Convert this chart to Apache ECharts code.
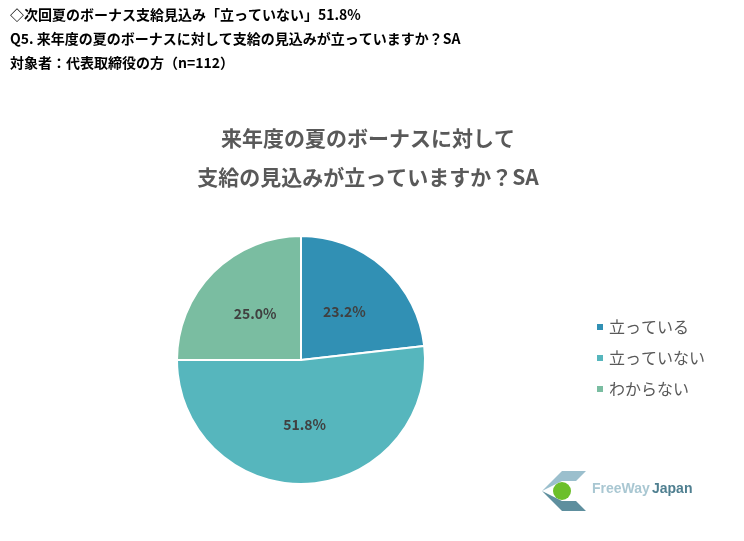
<!DOCTYPE html><html><head><meta charset="utf-8"><script src="https://cdn.jsdelivr.net/npm/echarts@6/dist/echarts.min.js"></script>
<style>html,body{margin:0;background:#fff}#c{width:744px;height:541px}</style></head><body><div id="c"></div><script>
const categories=['立っている','立っていない','わからない'];
const values=[23.2,51.8,25.0];
const colors=['#3190b4','#56b6bd','#7abda1'];
const headers=['◇次回夏のボーナス支給見込み「立っていない」51.8%','Q5. 来年度の夏のボーナスに対して支給の見込みが立っていますか？SA','対象者：代表取締役の方（n=112）'];
const F='"Noto Sans CJK JP",sans-serif';
const ch=echarts.init(document.getElementById('c'));
ch.setOption({
 animation:false,
 color:colors,
 title:{text:'来年度の夏のボーナスに対して\n支給の見込みが立っていますか？SA',left:363,textAlign:'center',top:114,
  textStyle:{fontFamily:F,fontSize:21,fontWeight:'bold',color:'#595959',lineHeight:39}},
 legend:{orient:'vertical',left:590,top:314,itemWidth:8,itemHeight:8,itemGap:15,icon:'rect',
  textStyle:{fontFamily:F,fontSize:16,color:'#595959'},data:categories},
 graphic:[
  ...headers.map((t,i)=>({type:'text',left:10,top:8+i*24,style:{text:t,font:'bold 14px '+F,fill:'#000'}})),
  {type:'polygon',shape:{points:[[542,491],[562,471],[586,471],[576,481],[562,481]]},style:{fill:'#9bbfcd'}},
  {type:'polygon',shape:{points:[[542,491],[562,511],[586,511],[576,501],[562,501]]},style:{fill:'#5e8f9e'}},
  {type:'circle',shape:{cx:562,cy:491,r:9},style:{fill:'#6cbf2a'}},
  {type:'text',left:592,top:482,style:{text:'FreeWay',font:'bold 14px Arial,sans-serif',fill:'#a9c7d2'}},
  {type:'text',left:652,top:482,style:{text:'Japan',font:'bold 14px Arial,sans-serif',fill:'#4f7f90'}}
 ],
 series:[{type:'pie',center:[301,360],radius:[0,124],startAngle:90,clockwise:true,
  itemStyle:{borderColor:'#fff',borderWidth:2},
  label:{position:'inside',formatter:p=>p.value.toFixed(1)+'%',fontFamily:F,fontSize:14,fontWeight:'bold',color:'#404040'},
  labelLine:{show:false},
  data:categories.map((c,i)=>({name:c,value:values[i]}))}]
});
</script></body></html>
